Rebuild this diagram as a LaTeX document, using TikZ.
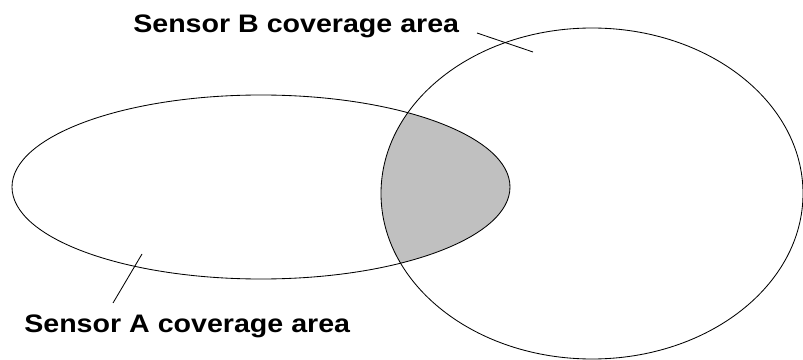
\documentclass[tikz,border=0pt]{standalone}
\usepackage{fontspec}
\setmainfont{Liberation Sans}
\definecolor{overlapgray}{RGB}{192,192,192}
\tikzset{
  area/.style={draw=black,line width=0.6pt},
  pointer/.style={draw=black,line width=0.6pt},
  arealabel/.style={anchor=base west,inner sep=0pt,font=\fontsize{18}{20}\selectfont\bfseries}
}
\begin{document}
\begin{tikzpicture}[x=0.025cm,y=-0.025cm]
\useasboundingbox (0,0) rectangle (803,360);
\begin{scope}
\clip (261,187) ellipse [x radius=249,y radius=92];
\fill[overlapgray] (592,193.5) ellipse [x radius=211,y radius=165.5];
\end{scope}
\draw[area] (261,187) ellipse [x radius=249,y radius=92];
\draw[area] (592,193.5) ellipse [x radius=211,y radius=165.5];
\node[arealabel] (labB) at (133,33) {\scalebox{1.13}[1]{Sensor B coverage area}};
\node[arealabel] (labA) at (24,332) {\scalebox{1.13}[1]{Sensor A coverage area}};
\coordinate (fromB) at (477,33);
\coordinate (tipB) at (533,52);
\coordinate (fromA) at (113,303);
\coordinate (tipA) at (142,254);
\draw[pointer] (fromB) -- (tipB);
\draw[pointer] (fromA) -- (tipA);
\end{tikzpicture}
\end{document}
